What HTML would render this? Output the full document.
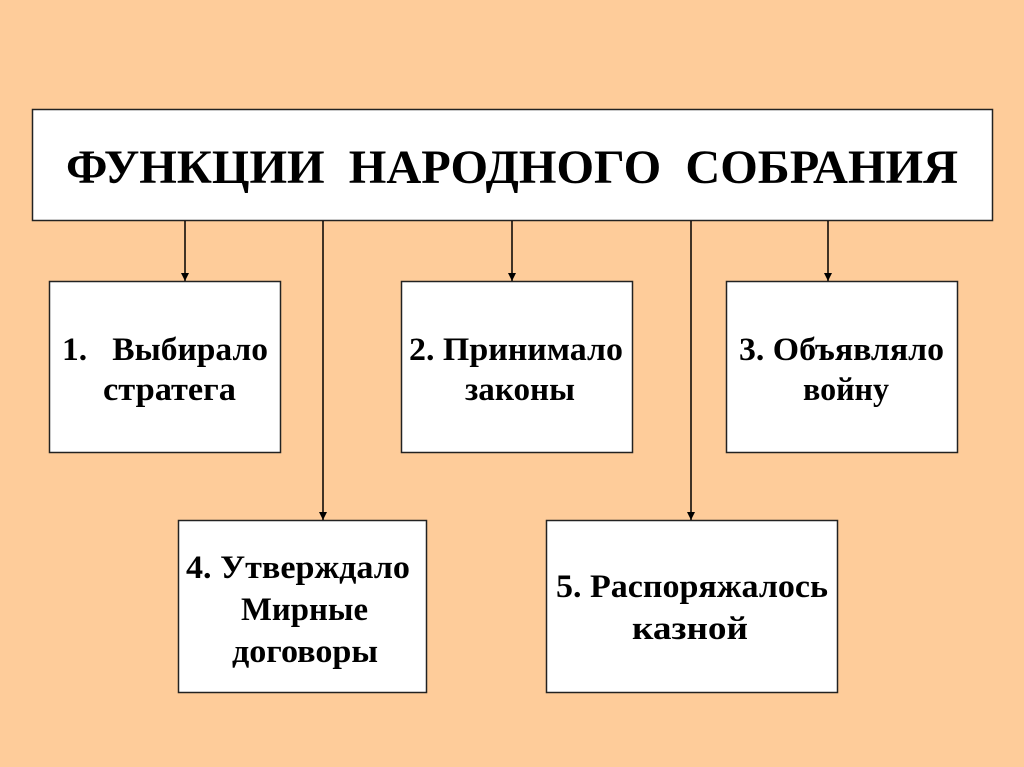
<!DOCTYPE html>
<html><head><meta charset="utf-8"><style>
html,body{margin:0;padding:0;background:#FECC9A;}
svg{display:block}
text{font-family:"Liberation Serif",serif;font-weight:bold;fill:#000;}
</style></head><body>
<svg width="1024" height="767" viewBox="0 0 1024 767" xmlns="http://www.w3.org/2000/svg">
<rect width="1024" height="767" fill="#FECC9A"/>
<defs><marker id="a" markerWidth="10" markerHeight="10" refX="9" refY="5" orient="auto" markerUnits="userSpaceOnUse"><path d="M1,1 L9,5 L1,9 Z" fill="#000"/></marker></defs>
<g stroke="#222" stroke-width="1.5" fill="#fff">
<rect x="32.5" y="109.5" width="960" height="111"/>
<rect x="49.5" y="281.5" width="231" height="171"/>
<rect x="401.5" y="281.5" width="231" height="171"/>
<rect x="726.5" y="281.5" width="231" height="171"/>
<rect x="178.5" y="520.5" width="248" height="172"/>
<rect x="546.5" y="520.5" width="291" height="172"/>
</g>
<g stroke="#000" stroke-width="1.5" marker-end="url(#a)">
<line x1="185" y1="221" x2="185" y2="281"/>
<line x1="323" y1="221" x2="323" y2="520"/>
<line x1="512" y1="221" x2="512" y2="281"/>
<line x1="691" y1="221" x2="691" y2="520"/>
<line x1="828" y1="221" x2="828" y2="281"/>
</g>
<text x="66" y="183" font-size="48" textLength="892" lengthAdjust="spacingAndGlyphs" xml:space="preserve">ФУНКЦИИ  НАРОДНОГО  СОБРАНИЯ</text>
<g font-size="33" lengthAdjust="spacingAndGlyphs">
<text x="62" y="360" textLength="206" lengthAdjust="spacingAndGlyphs" xml:space="preserve">1.   Выбирало</text>
<text x="103" y="400" textLength="133" lengthAdjust="spacingAndGlyphs">стратега</text>
<text x="409" y="360" textLength="214" lengthAdjust="spacingAndGlyphs">2. Принимало</text>
<text x="465" y="400" textLength="110" lengthAdjust="spacingAndGlyphs">законы</text>
<text x="739" y="360" textLength="205" lengthAdjust="spacingAndGlyphs">3. Объявляло</text>
<text x="803" y="400" textLength="86" lengthAdjust="spacingAndGlyphs">войну</text>
<text x="186" y="578" textLength="224" lengthAdjust="spacingAndGlyphs">4. Утверждало</text>
<text x="241" y="620" textLength="127" lengthAdjust="spacingAndGlyphs">Мирные</text>
<text x="232" y="662" textLength="146" lengthAdjust="spacingAndGlyphs">договоры</text>
<text x="556" y="597" textLength="272" lengthAdjust="spacingAndGlyphs">5. Распоряжалось</text>
<text x="632" y="639" textLength="116" lengthAdjust="spacingAndGlyphs">казной</text>
</g>
</svg>
</body></html>
